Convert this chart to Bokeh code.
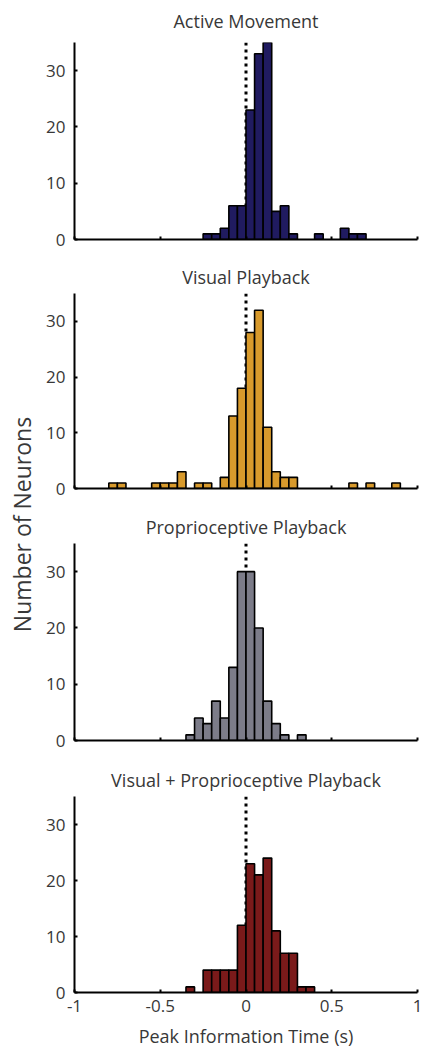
import numpy as np
from bokeh.plotting import figure
from bokeh.layouts import column, row
from bokeh.models import Range1d, FixedTicker, Span
from bokeh.embed import file_html
from bokeh.resources import INLINE
from bokeh.core.properties import value

# 40 bins of 0.05 s from -1 to 1
bin_edges = [round(-1 + 0.05 * i, 2) for i in range(41)]

titles = ["Active Movement", "Visual Playback", "Proprioceptive Playback",
          "Visual + Proprioceptive Playback"]

active_counts = [0, 0, 0, 0, 0, 0, 0, 0, 0, 0,
                 0, 0, 0, 0, 0, 1, 1, 2, 6, 6,
                 23, 33, 35, 5, 6, 1, 0, 0, 1, 0,
                 0, 2, 1, 1, 0, 0, 0, 0, 0, 0]
visual_counts = [0, 0, 0, 0, 1, 1, 0, 0, 0, 1,
                 1, 1, 3, 0, 1, 1, 0, 2, 13, 18,
                 28, 32, 11, 3, 2, 2, 0, 0, 0, 0,
                 0, 0, 1, 0, 1, 0, 0, 1, 0, 0]
proprio_counts = [0, 0, 0, 0, 0, 0, 0, 0, 0, 0,
                  0, 0, 0, 1, 4, 3, 7, 4, 13, 30,
                  30, 20, 7, 3, 1, 0, 1, 0, 0, 0,
                  0, 0, 0, 0, 0, 0, 0, 0, 0, 0]
combined_counts = [0, 0, 0, 0, 0, 0, 0, 0, 0, 0,
                   0, 0, 0, 1, 0, 4, 4, 4, 4, 12,
                   23, 21, 24, 11, 7, 7, 1, 1, 0, 0,
                   0, 0, 0, 0, 0, 0, 0, 0, 0, 0]

y_ticks = [0, 10, 20, 30]
x_ticks = [-1, -0.5, 0, 0.5, 1]
x_tick_labels = ["-1", "-0.5", "0", "0.5", "1"]
x_label = "Peak Information Time (s)"
y_label = "Number of Neurons"

colors = ["#201b60", "#d89a2c", "#7c7c89", "#7a1a1a"]
all_counts = [active_counts, visual_counts, proprio_counts, combined_counts]

FONT = "Open Sans"
TXT = "#383838"

layout_params = [
    # frame_height, min_border_top, min_border_bottom, title standoff
    (197, 42, 12, 16),
    (195, 42, 13, 6),
    (197, 42, 14, 6),
    (196, 42, 31, 6),
]


def make_panel(k):
    fh, mt, mb, st = layout_params[k]
    last = (k == 3)
    p = figure(frame_width=343, frame_height=fh,
               x_range=Range1d(-1, 1), y_range=Range1d(0, 35),
               output_backend="svg", toolbar_location=None,
               min_border_left=34, min_border_right=5,
               min_border_top=mt, min_border_bottom=mb,
               title=titles[k])
    p.outline_line_color = None
    p.grid.visible = False
    p.title.align = "center"
    p.title.vertical_align = "top"
    p.title.text_font = FONT
    p.title.text_font_size = "18px"
    p.title.text_font_style = "normal"
    p.title.text_color = TXT
    p.title.standoff = st

    counts = all_counts[k]
    left = [bin_edges[i] for i in range(40) if counts[i] > 0]
    right = [bin_edges[i + 1] for i in range(40) if counts[i] > 0]
    top = [counts[i] for i in range(40) if counts[i] > 0]

    p.add_layout(Span(location=0, dimension="height", line_color="black",
                      line_width=3, line_dash="3 4", level="underlay"))
    p.quad(left=left, right=right, bottom=0, top=top,
           fill_color=colors[k], line_color="black", line_width=1.6)

    for ax in (p.xaxis, p.yaxis):
        ax.axis_line_width = 2
        ax.axis_line_color = "black"
        ax.major_tick_line_width = 2
        ax.major_tick_line_color = "black"
        ax.major_tick_in = 3
        ax.major_tick_out = 0
        ax.minor_tick_line_width = 2
        ax.minor_tick_line_color = "black"
        ax.minor_tick_in = 3
        ax.minor_tick_out = 0
        ax.major_label_text_font = FONT
        ax.major_label_text_font_size = "17px"
        ax.major_label_text_color = TXT

    p.yaxis.ticker = FixedTicker(ticks=y_ticks, minor_ticks=[])
    p.yaxis.major_label_standoff = 9
    if last:
        p.xaxis.ticker = FixedTicker(ticks=x_ticks, minor_ticks=[])
        p.xaxis.major_label_overrides = {t: l for t, l in zip(x_ticks, x_tick_labels)}
        p.xaxis.major_label_standoff = 7
    else:
        # unlabeled panels: tick marks only (as minor ticks, so no label texts)
        p.xaxis.ticker = FixedTicker(ticks=[], minor_ticks=x_ticks)
        p.xaxis.major_label_standoff = 0
    return p


panels = [make_panel(k) for k in range(4)]

# x-axis title strip, aligned with the panels' x scale
XH = 25
xf = figure(frame_width=343, frame_height=XH, x_range=Range1d(-1, 1), y_range=Range1d(0, XH),
            x_axis_type=None, y_axis_type=None, min_border_left=34, min_border_right=5,
            min_border_top=0, min_border_bottom=0,
            output_backend="svg", toolbar_location=None)
xf.outline_line_color = None
xf.grid.visible = False
xf.text(x=[0], y=[XH / 2], text=[x_label], text_align="center", text_baseline="middle",
        text_font=value(FONT), text_font_size="18px", text_color=TXT)

# y-axis title strip
lf = figure(width=40, height=1046, x_range=Range1d(0, 40), y_range=Range1d(0, 1046),
            x_axis_type=None, y_axis_type=None, min_border=0,
            output_backend="svg", toolbar_location=None)
lf.outline_line_color = None
lf.grid.visible = False
lf.text(x=[21], y=[1046 - 524], text=[y_label], angle=np.pi / 2,
        text_align="center", text_baseline="middle",
        text_font=value(FONT), text_font_size="23px", text_color=TXT)

layout = row(lf, column(*panels, xf))
open("out.html", "w").write(file_html(layout, INLINE))
